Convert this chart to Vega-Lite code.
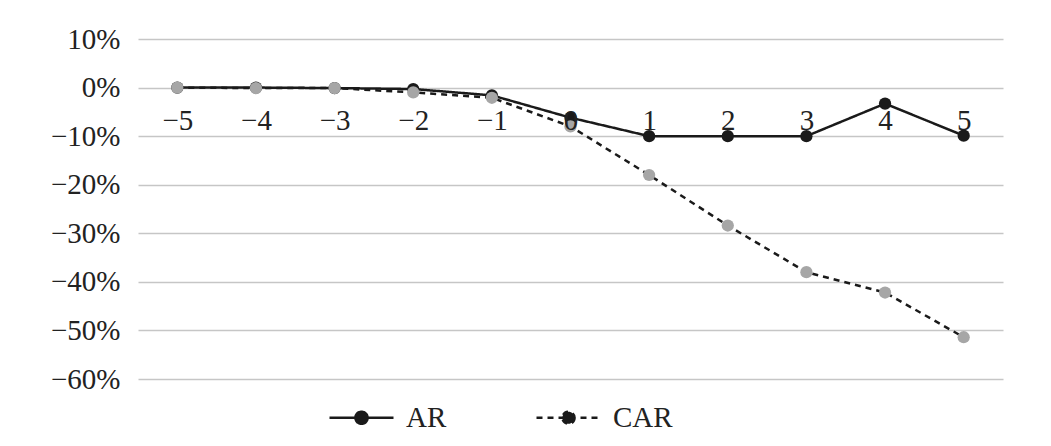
{
  "$schema": "https://vega.github.io/schema/vega-lite/v6.json",
  "autosize": {"type": "none"},
  "width": 865,
  "height": 340,
  "padding": {"left": 138, "top": 39, "right": 48, "bottom": 67},
  "background": "white",
  "config": {
    "font": "Liberation Serif",
    "view": {"stroke": null},
    "axis": {"labelFont": "Liberation Serif", "labelColor": "#222222", "labelFontSize": 29}
  },
  "data": {
    "values": [
      {"t": -5, "series": "AR", "v": 0.0},
      {"t": -4, "series": "AR", "v": 0.0},
      {"t": -3, "series": "AR", "v": -0.001},
      {"t": -2, "series": "AR", "v": -0.003},
      {"t": -1, "series": "AR", "v": -0.016},
      {"t": 0, "series": "AR", "v": -0.062},
      {"t": 1, "series": "AR", "v": -0.100},
      {"t": 2, "series": "AR", "v": -0.100},
      {"t": 3, "series": "AR", "v": -0.100},
      {"t": 4, "series": "AR", "v": -0.033},
      {"t": 5, "series": "AR", "v": -0.099},
      {"t": -5, "series": "CAR", "v": 0.0},
      {"t": -4, "series": "CAR", "v": -0.001},
      {"t": -3, "series": "CAR", "v": -0.001},
      {"t": -2, "series": "CAR", "v": -0.010},
      {"t": -1, "series": "CAR", "v": -0.021},
      {"t": 0, "series": "CAR", "v": -0.080},
      {"t": 1, "series": "CAR", "v": -0.180},
      {"t": 2, "series": "CAR", "v": -0.284},
      {"t": 3, "series": "CAR", "v": -0.380},
      {"t": 4, "series": "CAR", "v": -0.422},
      {"t": 5, "series": "CAR", "v": -0.514}
    ]
  },
  "encoding": {
    "x": {
      "field": "t",
      "type": "ordinal",
      "sort": "ascending",
      "scale": {"type": "point", "padding": 0.5},
      "axis": {
        "title": null,
        "orient": "bottom",
        "offset": -291.4,
        "domain": false,
        "ticks": false,
        "labelAngle": 0,
        "labelPadding": 19,
        "zindex": 1,
        "labelExpr": "replace(datum.label, '-', '\u2212')"
      }
    },
    "y": {
      "field": "v",
      "type": "quantitative",
      "scale": {"domain": [-0.6, 0.1], "nice": false, "zero": false},
      "axis": {
        "title": null,
        "values": [-0.6, -0.5, -0.4, -0.3, -0.2, -0.1, 0, 0.1],
        "format": ".0%",
        "domain": false,
        "ticks": false,
        "grid": true,
        "gridColor": "#c6c6c6",
        "gridWidth": 1.5,
        "labelPadding": 18,
        "zindex": 0
      }
    }
  },
  "layer": [
    {
      "mark": {"type": "line", "color": "#1a1a1a", "strokeWidth": 2.5},
      "encoding": {
        "strokeDash": {
          "field": "series",
          "type": "nominal",
          "scale": {"domain": ["AR", "CAR"], "range": [[1, 0], [6, 5]]},
          "legend": {
            "title": null,
            "orient": "none",
            "direction": "horizontal",
            "legendX": 190,
            "legendY": 345,
            "symbolType": "M-1,0H1M0.19,0A0.19,0.19,0,1,1,-0.19,0A0.19,0.19,0,1,1,0.19,0Z",
            "symbolSize": 4096,
            "symbolStrokeWidth": 2,
            "symbolStrokeColor": "#1a1a1a",
            "symbolFillColor": "#1a1a1a",
            "labelFontSize": 29,
            "labelFont": "Liberation Serif",
            "labelColor": "#222222",
            "labelOffset": 11,
            "columnPadding": 84,
            "encode": {
              "symbols": {"update": {"fill": {"value": "#1a1a1a"}, "stroke": {"value": "#1a1a1a"}, "strokeWidth": {"value": 2.5}}}
            }
          }
        }
      }
    },
    {
      "transform": [{"filter": "datum.series === 'AR'"}],
      "mark": {"type": "point", "filled": true, "size": 150, "opacity": 1, "color": "#1a1a1a"}
    },
    {
      "transform": [{"filter": "datum.series === 'CAR'"}],
      "mark": {"type": "point", "filled": true, "size": 150, "opacity": 1, "color": "#a6a6a6"}
    }
  ]
}
